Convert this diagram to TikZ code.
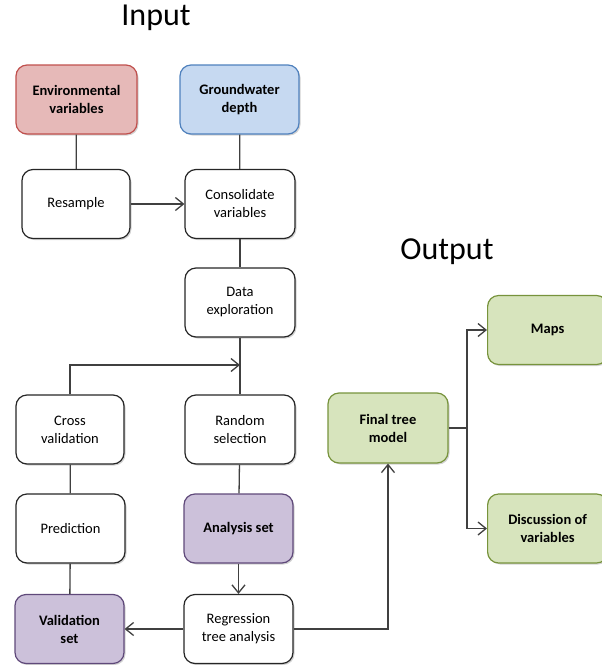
\documentclass[tikz,border=0pt]{standalone}
\usepackage{fontspec}
\setmainfont{Carlito}
\usetikzlibrary{arrows.meta,shadows}
\definecolor{lin}{HTML}{404040}
\definecolor{redf}{HTML}{E6B9B8}
\definecolor{redd}{HTML}{C0504D}
\definecolor{bluef}{HTML}{C6D9F1}
\definecolor{blued}{HTML}{4F81BD}
\definecolor{purf}{HTML}{CCC1DA}
\definecolor{purd}{HTML}{5F497A}
\definecolor{grnf}{HTML}{D7E4BD}
\definecolor{grnd}{HTML}{77933C}
\tikzset{
  box/.style={draw=black!85, line width=1.2pt, fill=white, rounded corners=11pt,
    minimum width=109pt, minimum height=69pt, align=center, inner sep=2pt,
    font=\fontsize{14.5}{18}\selectfont,
    drop shadow={shadow xshift=1.5pt, shadow yshift=-1.5pt, opacity=0.35}},
  redbox/.style={box, fill=redf, draw=redd, font=\fontsize{14.5}{18}\selectfont\bfseries},
  bluebox/.style={box, fill=bluef, draw=blued, font=\fontsize{14.5}{18}\selectfont\bfseries},
  purbox/.style={box, fill=purf, draw=purd, font=\fontsize{14.5}{18}\selectfont\bfseries},
  grnbox/.style={box, fill=grnf, draw=grnd, font=\fontsize{14.5}{18}\selectfont\bfseries},
  conn/.style={draw=lin, line width=1.3pt},
  arr/.style={conn, -{Straight Barb[length=8pt,width=13pt]}},
  title/.style={font=\fontsize{32}{38}\selectfont}
}
\begin{document}
\begin{tikzpicture}[x=1pt,y=-1pt]
\useasboundingbox (0,0) rectangle (602,665);
\node[title] (tin) at (156,18) {Input};
\node[title] (tout) at (447,252) {Output};

\node[redbox, minimum width=121pt] (env) at (76.5,99.5) {Environmental\\variables};
\node[bluebox, minimum width=119pt] (gw) at (239.5,99.5) {Groundwater\\depth};
\node[box, minimum width=108pt] (res) at (76,204) {Resample};
\node[box, minimum width=110pt] (con) at (240,204) {Consolidate\\variables};
\node[box, minimum width=110pt] (dat) at (240,302.5) {Data\\exploration};
\node[box, minimum width=108pt] (cro) at (70,429.5) {Cross\\validation};
\node[box, minimum width=110pt] (ran) at (240,429.5) {Random\\selection};
\node[box, minimum width=109pt] (pre) at (70.5,528.5) {Prediction};
\node[purbox, minimum width=109pt] (ana) at (238.5,528.5) {Analysis set};
\node[purbox, minimum width=109pt] (val) at (69.5,629) {Validation\\set};
\node[box, minimum width=109pt] (reg) at (238.5,629) {Regression\\tree analysis};
\node[grnbox, minimum width=120pt, minimum height=70pt] (fin) at (388,428) {Final tree\\model};
\node[grnbox, minimum width=120pt, anchor=west] (map) at (487,330) {Maps};
\node[grnbox, minimum width=120pt, anchor=west] (dis) at (487,528.5) {Discussion of\\variables};

\coordinate (j1) at (240,365);
\coordinate (j2) at (467,428);
\coordinate (j3) at (388,629);

\draw[conn] (env) -- (res);
\draw[conn] (gw) -- (con);
\draw[arr] (res) -- (con);
\draw[conn] (con) -- (dat);
\draw[conn] (dat) -- (ran);
\draw[arr] (cro.north) |- (j1);
\draw[conn] (ran) -- (ana);
\draw[arr] (ana) -- (reg);
\draw[arr] (reg) -- (val);
\draw[conn] (val) -- (pre);
\draw[conn] (pre) -- (cro);
\draw[arr] (reg.east) -- (j3) -- (fin.south);
\draw[conn] (fin.east) -- (j2);
\draw[arr] (j2) |- (map.west);
\draw[arr] (j2) |- (dis.west);
\end{tikzpicture}
\end{document}
